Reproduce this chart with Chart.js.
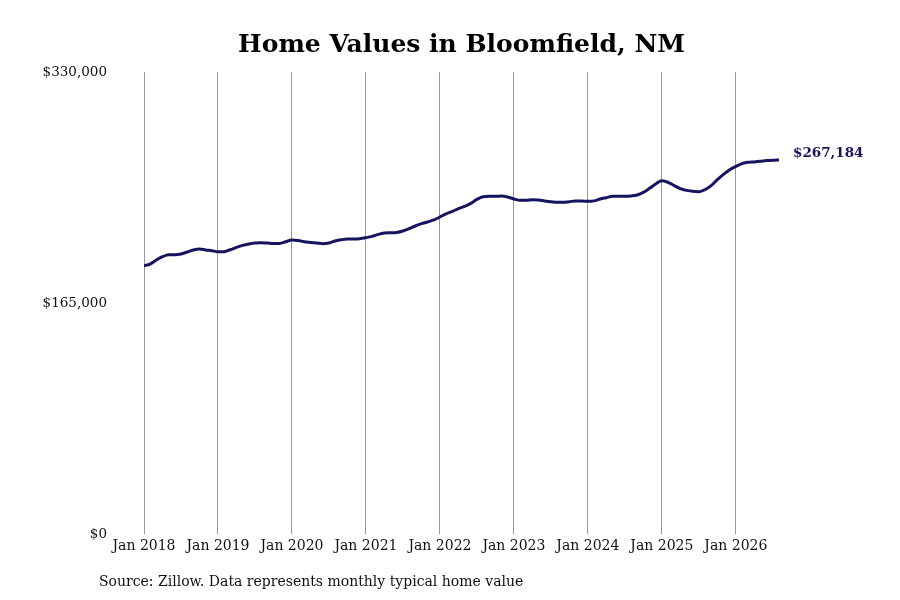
<!DOCTYPE html>
<html>
<head>
<meta charset="utf-8">
<script src="https://cdn.jsdelivr.net/npm/chart.js@4.4.1/dist/chart.umd.min.js"></script>
<style>
html,body{margin:0;padding:0;background:#fff;}
#wrap{width:900px;height:600px;position:relative;}
</style>
</head>
<body>
<div id="wrap"><canvas id="c" width="900" height="600"></canvas></div>
<script>
// Months since Jan 2018 (0 = Jan 2018)
const months = Array.from({length: 104}, (_, i) => i);
// Typical home value, monthly
const homeValues = [
  191620,192840,195700,198060,199490,199490,199990,201420,202850,203560,202850,202350,
  201630,201630,203060,204700,206130,207140,207850,208070,207850,207560,207560,208780,
  210000,209710,208780,208280,207850,207350,207850,209280,210210,210710,210710,210930,
  211640,212570,214000,215000,215220,215430,216430,218080,220010,221650,222870,224300,
  226440,228590,230440,232380,234020,236160,239020,240960,241170,241170,241460,240740,
  239310,238310,238310,238810,238600,237880,237380,236880,236880,237380,237880,237880,
  237590,237950,239310,240240,241170,241170,241170,241460,242170,244030,246890,250040,
  252400,251180,248820,246680,245460,244740,244530,245960,248820,253110,256900,260260,
  262620,264550,265480,265770,266190,266700,266900,267184
];
const xTickMonths = [0,12,24,36,48,60,72,84,96];
const yTickValues = [0,165000,330000];
const titleText = "Home Values in Bloomfield, NM";
const sourceText = "Source: Zillow. Data represents monthly typical home value";
const endLabel = "$267,184";

const FONT = "'DejaVu Serif', serif";
const NAVY = "#16135f";

const textPlugin = {
  id: 'texts',
  afterDraw(chart) {
    const ctx = chart.ctx;
    const ca = chart.chartArea;
    ctx.save();
    ctx.fillStyle = '#000';
    ctx.font = "bold 25px " + FONT;
    ctx.textAlign = 'center';
    ctx.textBaseline = 'middle';
    ctx.fillText(titleText, (ca.left + ca.right) / 2, 45);

    ctx.font = "14px " + FONT;
    ctx.textAlign = 'left';
    ctx.fillStyle = '#111';
    ctx.fillText(sourceText, 99, 582);

    const meta = chart.getDatasetMeta(0);
    const last = meta.data[meta.data.length - 1];
    ctx.font = "bold 13.5px " + FONT;
    ctx.fillStyle = NAVY;
    ctx.fillText(endLabel, last.x + 14, last.y - 6);
    ctx.restore();
  }
};

new Chart(document.getElementById('c'), {
  type: 'line',
  data: {
    datasets: [{
      data: months.map((m, i) => ({x: m, y: homeValues[i]})),
      borderColor: NAVY,
      borderWidth: 3,
      pointRadius: 0,
      tension: 0.4,
      cubicInterpolationMode: 'monotone',
      borderCapStyle: 'round',
      fill: false
    }]
  },
  options: {
    responsive: false,
    animation: false,
    devicePixelRatio: 1,
    layout: {padding: {left: 0, right: 121, top: 72, bottom: 0}},
    plugins: {legend: {display: false}, tooltip: {enabled: false}, title: {display: false}},
    scales: {
      x: {
        type: 'linear',
        min: 0,
        max: 103,
        afterBuildTicks(scale) { scale.ticks = xTickMonths.map(v => ({value: v})); },
        afterFit(scale) { scale.height = 66; },
        ticks: {
          callback: v => 'Jan ' + (2018 + v / 12),
          font: {family: FONT, size: 14},
          color: '#111',
          padding: 4,
          maxRotation: 0,
          autoSkip: false
        },
        grid: {color: '#999', lineWidth: 1, drawTicks: false},
        border: {display: false}
      },
      y: {
        min: 0,
        max: 330000,
        afterBuildTicks(scale) { scale.ticks = yTickValues.map(v => ({value: v})); },
        afterFit(scale) { scale.width = 144; },
        ticks: {
          callback: v => '$' + v.toLocaleString('en-US'),
          font: {family: FONT, size: 13.5},
          color: '#111',
          padding: 37
        },
        grid: {display: false, drawTicks: false},
        border: {display: false}
      }
    }
  },
  plugins: [textPlugin]
});
</script>
</body>
</html>
